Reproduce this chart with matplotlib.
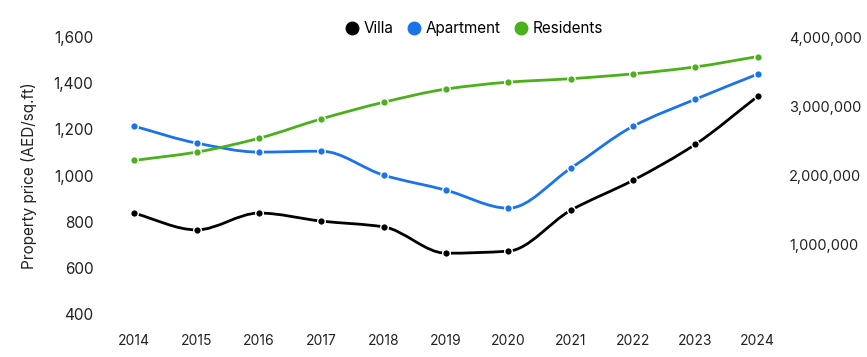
import numpy as np
import matplotlib.pyplot as plt
from matplotlib.path import Path
from matplotlib.patches import PathPatch
from matplotlib.lines import Line2D
from matplotlib.ticker import FuncFormatter

plt.rcParams['font.family'] = ['Inter', 'DejaVu Sans']

years = [2014, 2015, 2016, 2017, 2018, 2019, 2020, 2021, 2022, 2023, 2024]
villa = [837, 765, 838, 803, 778, 664, 673, 850, 980, 1136, 1344]
apartment = [1214, 1141, 1102, 1106, 1002, 937, 859, 1032, 1214, 1331, 1440]
residents = [2220000, 2340000, 2540000, 2820000, 3060000, 3250000, 3350000,
             3400000, 3470000, 3570000, 3720000]

c_villa = '#000000'
c_apt = '#1a73e8'
c_res = '#4caf1c'


def monotone_path(x, y):
    # monotone cubic (Fritsch-Carlson) as bezier segments
    x = np.asarray(x, float)
    y = np.asarray(y, float)
    h = np.diff(x)
    d = np.diff(y) / h
    m = np.zeros_like(y)
    m[0], m[-1] = d[0], d[-1]
    for i in range(1, len(y) - 1):
        if d[i - 1] * d[i] <= 0:
            m[i] = 0
        else:
            m[i] = 3 * (h[i - 1] + h[i]) / ((2 * h[i] + h[i - 1]) / d[i - 1] + (h[i] + 2 * h[i - 1]) / d[i])
    verts = [(x[0], y[0])]
    codes = [Path.MOVETO]
    for i in range(len(x) - 1):
        verts += [(x[i] + h[i] / 3, y[i] + m[i] * h[i] / 3),
                  (x[i + 1] - h[i] / 3, y[i + 1] - m[i + 1] * h[i] / 3),
                  (x[i + 1], y[i + 1])]
        codes += [Path.CURVE4] * 3
    return Path(verts, codes)


fig = plt.figure(figsize=(8.67, 3.57), dpi=100)
ax = fig.add_axes([0.119, 0.120, 0.791, 0.776])
ax2 = ax.twinx()

for a, yy, c in [(ax, villa, c_villa), (ax, apartment, c_apt), (ax2, residents, c_res)]:
    a.add_patch(PathPatch(monotone_path(years, yy), fill=False, edgecolor=c, lw=2, zorder=2))
    a.plot(years, yy, ls='none', marker='o', ms=5.5, mfc=c, mec='white', mew=1, zorder=3)

ax.set_xlim(2013.5, 2024.5)
ax.set_ylim(400, 1600)
ax.set_yticks([400, 600, 800, 1000, 1200, 1400, 1600])
ax.set_xticks(years)
ax.yaxis.set_major_formatter(FuncFormatter(lambda v, p: f'{int(v):,}'))
ax2.set_ylim(0, 4000000)
ax2.set_yticks([1000000, 2000000, 3000000, 4000000])
ax2.yaxis.set_major_formatter(FuncFormatter(lambda v, p: f'{int(v):,}'))

for a in (ax, ax2):
    for s in a.spines.values():
        s.set_visible(False)
    a.tick_params(length=0, labelsize=11, colors='#222222')
ax.tick_params(axis='y', pad=7)
ax.tick_params(axis='x', pad=14, labelsize=10)
ax2.tick_params(axis='y', pad=0, labelsize=10.5)

ax.set_ylabel('Property price (AED/sq.ft)', fontsize=11, color='#222222', labelpad=12)

handles = [Line2D([], [], ls='none', marker='o', ms=9, color=c) for c in (c_villa, c_apt, c_res)]
fig.legend(handles, ['Villa', 'Apartment', 'Residents'], loc='center', bbox_to_anchor=(0.547, 0.92),
           ncol=3, frameon=False, fontsize=11, handlelength=0.8, handletextpad=0.35, columnspacing=0.95)

fig.savefig('out.png', dpi=100)
